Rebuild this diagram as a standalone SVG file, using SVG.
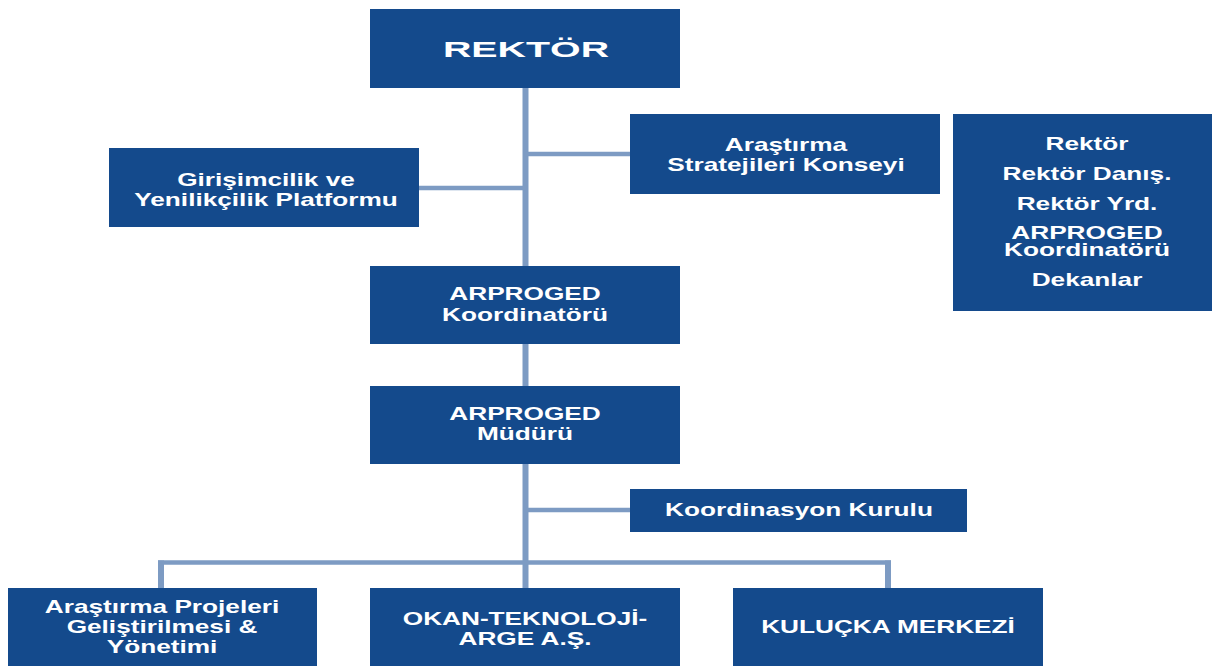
<svg xmlns="http://www.w3.org/2000/svg" width="1212" height="666" viewBox="0 0 1212 666">
<style>
.box{fill:#144a8c}
.t{font-family:"Liberation Sans",Arial,sans-serif;font-weight:bold;font-size:19px;fill:#ffffff;text-anchor:middle}
.big{font-size:22px}
.v{stroke:#7d9bc3;stroke-width:6;fill:none}
.h{stroke:#7d9bc3;stroke-width:4.5;fill:none}
</style>
<rect width="1212" height="666" fill="#ffffff"/>
<g id="connectors">
<line class="v" x1="525.5" y1="86" x2="525.5" y2="268"/>
<line class="h" x1="525" y1="154" x2="632" y2="154"/>
<line class="h" x1="417" y1="188" x2="526" y2="188"/>
<line class="v" x1="525.5" y1="342" x2="525.5" y2="388"/>
<line class="v" x1="525.5" y1="462" x2="525.5" y2="590"/>
<line class="h" x1="525" y1="510" x2="632" y2="510"/>
<line class="h" x1="158" y1="562.5" x2="891" y2="562.5"/>
<line class="v" x1="161" y1="560.5" x2="161" y2="590"/>
<line class="v" x1="888" y1="560.5" x2="888" y2="590"/>
</g>
<g id="rektor">
<rect class="box" x="370" y="9" width="310" height="79"/>
<text class="t big" transform="translate(526 0) scale(1.79 1)"><tspan x="0" y="56.7">REKTÖR</tspan></text>
</g>
<g id="girisimcilik">
<rect class="box" x="109" y="148" width="310" height="79"/>
<text class="t" transform="translate(266 0) scale(1.38 1)"><tspan x="0" y="186">Girişimcilik ve</tspan><tspan x="0" y="206">Yenilikçilik Platformu</tspan></text>
</g>
<g id="arastirma-stratejileri">
<rect class="box" x="630" y="114" width="310" height="80"/>
<text class="t" transform="translate(786 0) scale(1.38 1)"><tspan x="0" y="151">Araştırma</tspan><tspan x="0" y="171">Stratejileri Konseyi</tspan></text>
</g>
<g id="uyeler">
<rect class="box" x="953" y="114" width="259" height="197"/>
<text class="t" transform="translate(1087 0) scale(1.38 1)"><tspan x="0" y="150">Rektör</tspan><tspan x="0" y="180">Rektör Danış.</tspan><tspan x="0" y="210">Rektör Yrd.</tspan><tspan x="0" y="239">ARPROGED</tspan><tspan x="0" y="256">Koordinatörü</tspan><tspan x="0" y="286">Dekanlar</tspan></text>
</g>
<g id="arproged-koordinatoru">
<rect class="box" x="370" y="266" width="310" height="78"/>
<text class="t" transform="translate(525 0) scale(1.38 1)"><tspan x="0" y="300.5">ARPROGED</tspan><tspan x="0" y="321">Koordinatörü</tspan></text>
</g>
<g id="arproged-muduru">
<rect class="box" x="370" y="386" width="310" height="78"/>
<text class="t" transform="translate(525 0) scale(1.38 1)"><tspan x="0" y="420">ARPROGED</tspan><tspan x="0" y="440.5">Müdürü</tspan></text>
</g>
<g id="koordinasyon-kurulu">
<rect class="box" x="630" y="489" width="337" height="43"/>
<text class="t" transform="translate(799 0) scale(1.38 1)"><tspan x="0" y="516.5">Koordinasyon Kurulu</tspan></text>
</g>
<g id="arastirma-projeleri">
<rect class="box" x="8" y="588" width="309" height="78"/>
<text class="t" transform="translate(162 0) scale(1.38 1)"><tspan x="0" y="613.5">Araştırma Projeleri</tspan><tspan x="0" y="633.5">Geliştirilmesi &amp;</tspan><tspan x="0" y="653.5">Yönetimi</tspan></text>
</g>
<g id="okan-teknoloji">
<rect class="box" x="370" y="588" width="310" height="78"/>
<text class="t" transform="translate(525 0) scale(1.38 1)"><tspan x="0" y="625">OKAN-TEKNOLOJİ-</tspan><tspan x="0" y="645">ARGE A.Ş.</tspan></text>
</g>
<g id="kulucka-merkezi">
<rect class="box" x="733" y="588" width="310" height="78"/>
<text class="t" transform="translate(888 0) scale(1.38 1)"><tspan x="0" y="633">KULUÇKA MERKEZİ</tspan></text>
</g>
</svg>
